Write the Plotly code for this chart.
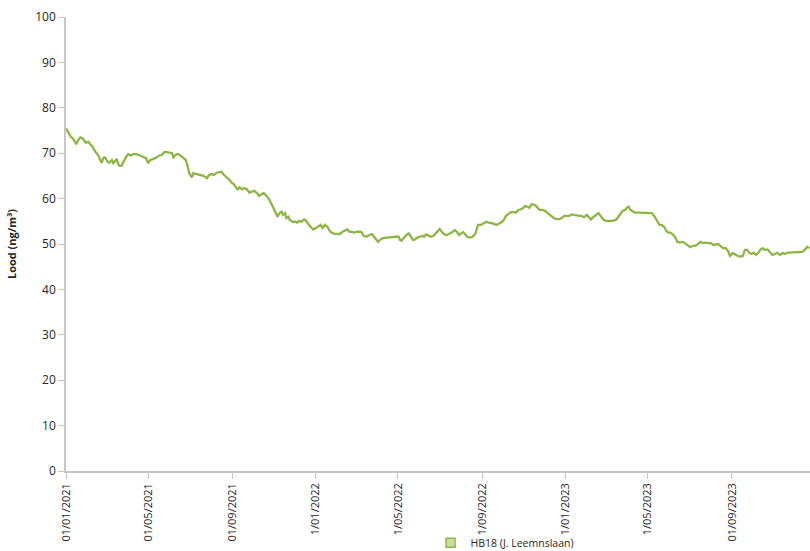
import pandas as pd
import plotly.graph_objects as go

# Lead concentration at station HB18 (J. Leemnslaan), running mean.
# Days counted from 1 January 2021.
days = [
    0, 3, 7, 10, 12, 15, 18, 21, 24, 26,
    29, 33, 35, 38, 41, 44, 47, 50, 52, 54,
    56, 58, 60, 63, 67, 69, 72, 74, 76, 78,
    81, 84, 88, 91, 95, 98, 103, 108, 113, 117,
    120, 123, 127, 130, 133, 136, 140, 143, 146, 149,
    152, 155, 157, 159, 162, 164, 168, 171, 175, 178,
    180, 184, 186, 191, 196, 201, 206, 209, 213, 216,
    220, 224, 227, 231, 235, 239, 242, 245, 248, 251,
    253, 257, 260, 264, 268, 271, 275, 279, 282, 286,
    289, 293, 297, 301, 304, 307, 309, 312, 315, 317,
    320, 322, 325, 327, 331, 335, 338, 341, 344, 348,
    351, 354, 358, 361, 365, 369, 372, 375, 378, 382,
    386, 391, 396, 400, 404, 408, 411, 414, 417, 421,
    425, 429, 432, 435, 439, 443, 447, 450, 453, 456,
    459, 463, 468, 472, 477, 482, 486, 488, 490, 494,
    498, 501, 504, 507, 510, 513, 517, 521, 523, 526,
    529, 533, 537, 541, 544, 546, 550, 554, 557, 561,
    565, 568, 571, 574, 577, 580, 583, 586, 590, 594,
    598, 600, 602, 606, 610, 614, 617, 622, 629, 633,
    637, 640, 643, 646, 650, 654, 657, 661, 664, 668,
    671, 674, 677, 680, 683, 686, 689, 692, 696, 700,
    703, 706, 710, 713, 717, 721, 724, 728, 732, 735,
    739, 742, 746, 750, 753, 757, 761, 764, 767, 770,
    774, 778, 781, 785, 789, 794, 799, 804, 807, 810,
    813, 817, 819, 822, 824, 828, 831, 836, 841, 846,
    851, 856, 860, 864, 867, 870, 874, 877, 880, 883,
    886, 890, 893, 897, 901, 904, 908, 912, 916, 919,
    922, 925, 927, 930, 934, 938, 942, 946, 950, 953,
    956, 960, 964, 968, 970, 974, 977, 981, 985, 989,
    992, 995, 998, 1002, 1005, 1008, 1011, 1015, 1018, 1021,
    1025, 1029, 1032, 1036, 1039, 1043, 1047, 1050, 1054, 1058,
    1063, 1067, 1072, 1076, 1080, 1083, 1086,
]

lead = [
    75.5, 74.7, 73.6, 73.3, 72.8, 72.0, 72.9, 73.5, 73.3, 72.8,
    72.3, 72.5, 72.0, 71.6, 70.7, 70.1, 69.6, 68.7, 67.9, 68.7,
    69.1, 68.9, 68.3, 67.9, 68.5, 67.8, 68.3, 68.7, 67.8, 67.2,
    67.2, 68.1, 69.2, 69.8, 69.5, 69.8, 69.8, 69.5, 69.2, 68.9,
    67.8, 68.5, 68.7, 68.9, 69.1, 69.5, 69.6, 70.2, 70.3, 70.2,
    70.1, 70.0, 68.9, 69.5, 69.8, 69.8, 69.4, 69.1, 68.5, 67.0,
    65.6, 64.7, 65.6, 65.4, 65.2, 65.0, 64.5, 65.2, 65.4, 65.2,
    65.7, 65.9, 65.9, 65.2, 64.7, 64.1, 63.5, 63.2, 62.6, 61.9,
    62.5, 62.1, 62.3, 62.1, 61.3, 61.5, 61.7, 61.2, 60.6, 61.0,
    61.2, 60.6, 59.8, 58.6, 57.5, 56.8, 56.0, 56.8, 57.1, 56.4,
    56.8, 55.7, 56.0, 55.3, 54.9, 54.9, 54.7, 55.1, 54.9, 55.4,
    55.1, 54.4, 53.8, 53.2, 53.5, 53.8, 54.2, 53.5, 54.2, 53.8,
    52.7, 52.3, 52.2, 52.2, 52.7, 53.1, 53.2, 52.7, 52.7, 52.5,
    52.7, 52.7, 52.6, 51.8, 51.6, 52.0, 52.2, 51.6, 51.0, 50.5,
    50.9, 51.3, 51.4, 51.5, 51.5, 51.6, 51.6, 50.9, 50.7, 51.4,
    52.1, 52.3, 51.6, 50.9, 51.0, 51.4, 51.6, 51.8, 51.6, 52.1,
    51.9, 51.6, 51.8, 52.5, 53.2, 53.3, 52.5, 52.0, 52.0, 52.3,
    52.7, 53.1, 52.7, 52.0, 52.3, 52.6, 52.2, 51.6, 51.4, 51.6,
    52.2, 53.2, 54.2, 54.2, 54.6, 54.9, 54.7, 54.6, 54.2, 54.6,
    54.9, 55.4, 56.2, 56.6, 57.0, 57.0, 56.9, 57.5, 57.6, 57.9,
    58.4, 58.2, 58.0, 58.7, 58.7, 58.5, 57.9, 57.5, 57.5, 57.3,
    56.9, 56.5, 56.0, 55.7, 55.5, 55.5, 55.7, 56.2, 56.2, 56.2,
    56.5, 56.4, 56.2, 56.2, 56.2, 55.9, 56.4, 55.9, 55.4, 55.9,
    56.4, 56.8, 56.2, 55.4, 55.1, 55.1, 55.1, 55.4, 55.9, 56.6,
    57.3, 57.5, 57.9, 58.2, 57.6, 57.1, 56.9, 56.9, 56.9, 56.9,
    56.9, 56.8, 56.0, 54.9, 54.2, 54.2, 53.8, 52.9, 52.5, 52.5,
    52.2, 51.5, 50.5, 50.3, 50.5, 50.2, 49.8, 49.3, 49.6, 49.6,
    49.8, 50.2, 50.5, 50.2, 50.3, 50.2, 50.2, 49.8, 49.9, 50.0,
    49.6, 49.1, 49.1, 48.3, 47.4, 48.0, 47.8, 47.4, 47.2, 47.4,
    48.7, 48.7, 48.1, 47.8, 48.1, 47.6, 48.0, 48.8, 49.1, 48.7,
    48.8, 48.0, 47.6, 47.8, 48.1, 47.6, 48.0, 47.8, 48.1, 48.1,
    48.2, 48.2, 48.2, 48.3, 48.8, 49.4, 49.1,
]

tick_dates = ["2021-01-01", "2021-05-01", "2021-09-01", "2022-01-01", "2022-05-01",
              "2022-09-01", "2023-01-01", "2023-05-01", "2023-09-01"]
tick_labels = ["01/01/2021", "01/05/2021", "01/09/2021", "1/01/2022", "1/05/2022",
               "1/09/2022", "1/01/2023", "1/05/2023", "01/09/2023"]
y_ticks = [0, 10, 20, 30, 40, 50, 60, 70, 80, 90, 100]

series_name = "HB18 (J. Leemnslaan)"
line_color = "#8db646"

dates = pd.Timestamp("2021-01-01") + pd.to_timedelta(days, unit="D")

fig = go.Figure()
fig.add_trace(go.Scatter(
    x=dates, y=lead, mode="lines", name=series_name,
    line=dict(color=line_color, width=2.3),
    showlegend=False, hoverinfo="x+y",
))
# legend entry drawn as a filled square swatch
fig.add_trace(go.Scatter(
    x=[None], y=[None], mode="markers", name=series_name,
    marker=dict(symbol="square", size=9, color="#c9dea3",
                line=dict(color=line_color, width=1.5)),
    showlegend=True,
))

axis_grey = "#c6c6c6"
font_family = "Open Sans, Liberation Sans, Arial, sans-serif"

fig.update_layout(
    width=810, height=551, autosize=False,
    margin=dict(l=66, r=0, t=17, b=80, autoexpand=False),
    paper_bgcolor="white", plot_bgcolor="white",
    font=dict(family=font_family, size=12, color="#262626"),
    legend=dict(orientation="h", x=0.49, xanchor="left", y=-0.126, yanchor="top",
                font=dict(size=10.5, color="#262626"), bgcolor="rgba(0,0,0,0)",
                itemwidth=30, tracegroupgap=0),
    showlegend=True,
)
fig.update_xaxes(
    type="date", range=["2021-01-01", "2023-12-24"], automargin=False,
    tickvals=tick_dates, ticktext=tick_labels, tickangle=-90,
    showgrid=False, zeroline=False,
    showline=True, linecolor=axis_grey, linewidth=1.5,
    ticks="outside", ticklen=6, tickcolor=axis_grey, tickwidth=1.2,
    tickfont=dict(size=11, color="#262626"),
)
fig.update_yaxes(
    range=[0, 100], tickvals=y_ticks, automargin=False,
    showgrid=False, zeroline=False,
    showline=True, linecolor=axis_grey, linewidth=1.5,
    ticks="outside", ticklen=6, tickcolor=axis_grey, tickwidth=1.2,
    tickfont=dict(size=12, color="#262626"),
    title=dict(text="<b>Lood (ng/m³)</b>", font=dict(size=11, color="#262626"), standoff=16),
)

fig.write_html("out.html")
